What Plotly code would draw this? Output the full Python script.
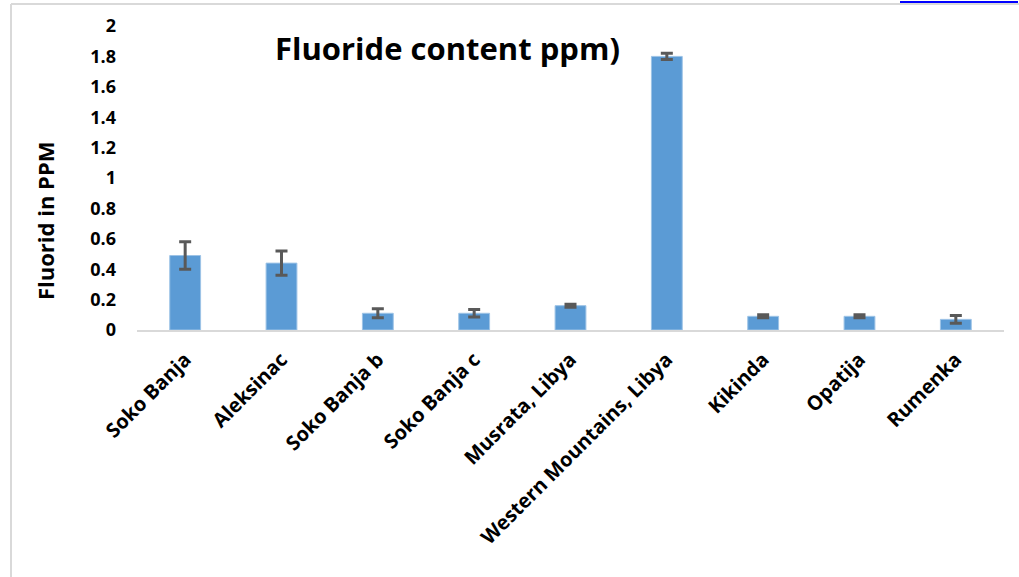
import plotly.graph_objects as go

categories = ["Soko Banja", "Aleksinac", "Soko Banja b", "Soko Banja c", "Musrata, Libya",
              "Western Mountains, Libya", "Kikinda", "Opatija", "Rumenka"]
values = [0.49, 0.44, 0.11, 0.11, 0.16, 1.80, 0.09, 0.09, 0.07]
errors = [0.09, 0.08, 0.03, 0.025, 0.01, 0.02, 0.01, 0.01, 0.025]
y_ticks = [0, 0.2, 0.4, 0.6, 0.8, 1, 1.2, 1.4, 1.6, 1.8, 2]
y_tick_labels = ["0", "0.2", "0.4", "0.6", "0.8", "1", "1.2", "1.4", "1.6", "1.8", "2"]

W, H = 1019, 577
L, R, T, B = 137, 1004, 26, 330

def px(x):
    return (x - L) / (R - L)

def py(y):
    return (B - y) / (B - T)

font_family = "Open Sans, Lato, DejaVu Sans, sans-serif"

fig = go.Figure(go.Bar(
    x=categories, y=values,
    marker=dict(color="#5b9bd5", line=dict(color="#9dc3e6", width=1)),
    error_y=dict(type="data", array=errors, color="#595959", thickness=3, width=6),
))

fig.update_layout(
    width=W, height=H,
    margin=dict(l=L, r=W - R, t=T, b=H - B, autoexpand=False),
    paper_bgcolor="white", plot_bgcolor="white",
    bargap=0.68,
    showlegend=False,
    font=dict(family=font_family, color="black"),
    xaxis=dict(
        showgrid=False, showline=True, linecolor="#d9d9d9", linewidth=2,
        ticks="", tickangle=-45, ticklabelstandoff=8,
        tickfont=dict(size=20, family=font_family, weight="bold"),
    ),
    yaxis=dict(
        range=[0, 2], showgrid=False, showline=False, zeroline=False,
        tickvals=y_ticks, ticktext=y_tick_labels, ticks="",
        ticklabelstandoff=20,
        tickfont=dict(size=18, family=font_family, weight="bold"),
    ),
    annotations=[
        dict(text="<b>Fluoride content ppm)</b>", xref="paper", yref="paper",
             x=px(447), y=py(48), xanchor="center", yanchor="middle",
             showarrow=False, font=dict(size=31, family=font_family)),
        dict(text="<b>Fluorid in PPM</b>", xref="paper", yref="paper",
             x=px(45), y=py(221), xanchor="center", yanchor="middle",
             textangle=-90, showarrow=False, font=dict(size=22, family=font_family)),
    ],
    shapes=[
        dict(type="line", xref="paper", yref="paper", x0=px(11), x1=px(11), y0=py(4), y1=py(H + 5),
             line=dict(color="#d9d9d9", width=2)),
        dict(type="line", xref="paper", yref="paper", x0=px(11), x1=px(W + 5), y0=py(4), y1=py(4),
             line=dict(color="#d9d9d9", width=2)),
        dict(type="line", xref="paper", yref="paper", x0=px(900), x1=px(1018), y0=py(2), y1=py(2),
             line=dict(color="#0000ff", width=2)),
    ],
)

fig.write_html("out.html",
               config={"displayModeBar": False},
               post_script="document.body.style.margin='0';document.body.style.overflow='hidden';")
